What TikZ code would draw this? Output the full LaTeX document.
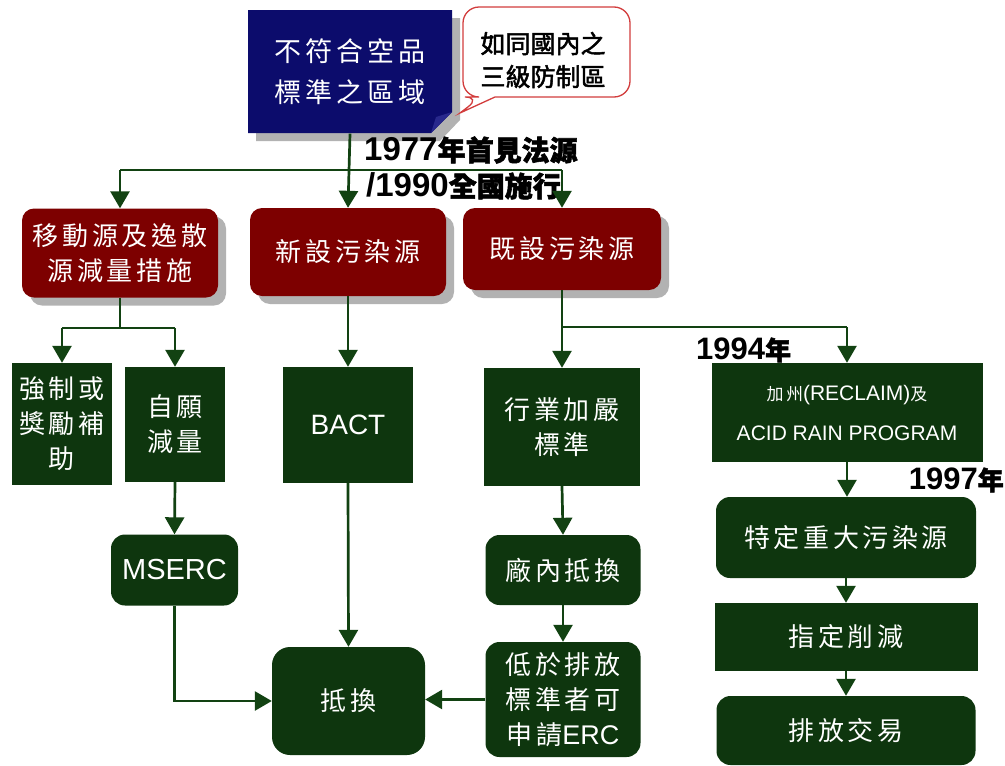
\documentclass[tikz,border=0pt]{standalone}
\usepackage{fontspec}
\setmainfont{Liberation Sans}
\newfontfamily\latin{Liberation Sans}
\newfontfamily\cjk[LetterSpace=14]{Noto Sans CJK TC}
\newfontfamily\cjkplain{Noto Sans CJK TC}
\newfontfamily\cjkbold[FakeBold=2]{Noto Sans CJK TC}
\usetikzlibrary{arrows.meta,shadows}
\definecolor{navyb}{RGB}{12,12,108}
\definecolor{navyf}{RGB}{40,40,140}
\definecolor{maroonb}{RGB}{125,0,0}
\definecolor{greenb}{RGB}{14,54,14}
\definecolor{linec}{RGB}{18,66,18}
\definecolor{shadowc}{RGB}{178,178,178}
\definecolor{callred}{RGB}{210,60,60}
\newcommand\boxfont{\cjk\fontsize{26}{35}\selectfont}
\newcommand\lblfont{\latin\bfseries\fontsize{33}{36}\selectfont}
\newcommand\lblcjk{\cjkbold\fontsize{28}{36}\selectfont}
\tikzset{
  base/.style={inner sep=0pt, align=center, text=white, font=\boxfont},
  redbox/.style={base, fill=maroonb, rounded corners=12pt,
    drop shadow={shadow xshift=8pt, shadow yshift=-8pt, fill=shadowc, opacity=1}},
  greensq/.style={base, fill=greenb},
  greenrd/.style={base, fill=greenb, rounded corners=14pt},
  conn/.style={draw=linec, line width=2.7pt},
  arr/.style={conn, -{Triangle[length=17pt,width=19pt]}},
  lbl/.style={inner sep=0pt, text=black, font=\lblfont}
}
\begin{document}
\begin{tikzpicture}[x=1pt,y=-1pt]
\useasboundingbox (0,0) rectangle (1005,766);
% top blue box with folded corner
\fill[shadowc] (256,18) -- (460,18) -- (460,120) -- (440,141) -- (256,141) -- cycle;
\fill[navyb] (248,10) -- (452,10) -- (452,112) -- (431,133) -- (248,133) -- cycle;
\fill[navyf] (452,112) -- (431,133) -- (436,117) -- cycle;
\node[base, minimum width=204pt, minimum height=123pt, font=\cjk\fontsize{27}{41}\selectfont] (src) at (350,72) {不符合空品\\標準之區域};
% callout
\draw[draw=callred, line width=1.3pt, fill=white] (495,97) [rounded corners=16pt] -- (630,97) -- (630,7) -- (463,7) -- (463,97) -- (481,97) [sharp corners] -- (460,113) -- cycle;
\node[inner sep=0pt, align=center, font=\cjkbold\fontsize{25}{33}\selectfont] (call) at (543,60) {如同國內之\\三級防制區};
% second row
\node[redbox, minimum width=196pt, minimum height=89pt] (mob) at (120,253) {移動源及逸散\\源減量措施};
\node[redbox, minimum width=196pt, minimum height=88pt] (new) at (348,252) {新設污染源};
\node[redbox, minimum width=198pt, minimum height=82pt] (exist) at (562,249) {既設污染源};
% third row
\node[greensq, minimum width=100pt, minimum height=122pt] (force) at (62,424) {強制或\\獎勵補\\助};
\node[greensq, minimum width=100pt, minimum height=115pt] (vol) at (175,424.5) {自願\\減量};
\node[greensq, minimum width=130pt, minimum height=116pt, font=\latin\fontsize{28}{35}\selectfont] (bact) at (348,425) {BACT};
\node[greensq, minimum width=156pt, minimum height=118pt] (ind) at (562,427) {行業加嚴\\標準};
\node[greensq, minimum width=271pt, minimum height=99pt, font=\latin\fontsize{21}{40}\selectfont] (calif) at (847,412.5) {{\cjk\fontsize{17}{40}\selectfont 加州}(RECLAIM){\cjkplain\fontsize{17}{40}\selectfont 及}\\ACID RAIN PROGRAM};
% lower rows
\node[greenrd, minimum width=127pt, minimum height=71pt, font=\latin\fontsize{29}{35}\selectfont] (mserc) at (174.5,570) {MSERC};
\node[greenrd, minimum width=155pt, minimum height=70pt] (plant) at (563,570) {廠內抵換};
\node[greenrd, minimum width=155pt, minimum height=115pt] (erc) at (563,699.5) {低於排放\\標準者可\\申請{\latin\fontsize{27}{35}\selectfont ERC}};
\node[greenrd, minimum width=153pt, minimum height=108pt, rounded corners=18pt] (off) at (348.5,701) {抵換};
\node[greenrd, minimum width=260pt, minimum height=81pt] (major) at (846,537.5) {特定重大污染源};
\node[greensq, minimum width=263pt, minimum height=68pt] (assign) at (846,637) {指定削減};
\node[greenrd, minimum width=259pt, minimum height=69pt] (trade) at (846,730.5) {排放交易};
% labels
\node[lbl, anchor=west] (l1977) at (364,150) {1977{\lblcjk 年首見法源}};
\node[lbl, anchor=west] (l1990) at (366,186) {/1990{\lblcjk 全國施行}};
\node[lbl, anchor=west, font=\latin\bfseries\fontsize{31}{36}\selectfont] (l1994) at (696,350) {1994{\cjkbold\fontsize{26}{36}\selectfont 年}};
\node[lbl, anchor=east, font=\latin\bfseries\fontsize{31}{36}\selectfont] (l1997) at (1004,480) {1997{\cjkbold\fontsize{26}{36}\selectfont 年}};
% connectors
\coordinate (j1) at (350,170);
\coordinate (j2) at (120,328);
\coordinate (j3) at (562,327);
\draw[arr] (src.south) -- (new.north);
\draw[conn] (j1 -| mob.north) -- (j1 -| exist.north);
\draw[arr] (j1 -| mob.north) -- (mob.north);
\draw[arr] (j1 -| exist.north) -- (exist.north);
\draw[conn] (mob.south) -- (j2);
\draw[conn] (j2 -| force.north) -- (j2 -| vol.north);
\draw[arr] (j2 -| force.north) -- (force.north);
\draw[arr] (j2 -| vol.north) -- (vol.north);
\draw[arr] (new.south) -- (bact.north);
\draw[conn] (exist.south) -- (j3);
\draw[conn] (j3) -- (j3 -| calif.north);
\draw[arr] (j3) -- (ind.north);
\draw[arr] (j3 -| calif.north) -- (calif.north);
\draw[arr] (vol.south) -- (mserc.north);
\draw[arr] (ind.south) -- (plant.north);
\draw[arr] (plant.south) -- (erc.north);
\draw[arr] (bact.south) -- (off.north);
\draw[arr] (mserc.south) |- (off.west);
\draw[arr] (erc.west) -- (erc.west -| off.east);
\draw[arr] (calif.south) -- (calif.south |- major.north);
\draw[arr] (major.south) -- (assign.north);
\draw[arr] (assign.south) -- (trade.north);
\end{tikzpicture}
\end{document}
